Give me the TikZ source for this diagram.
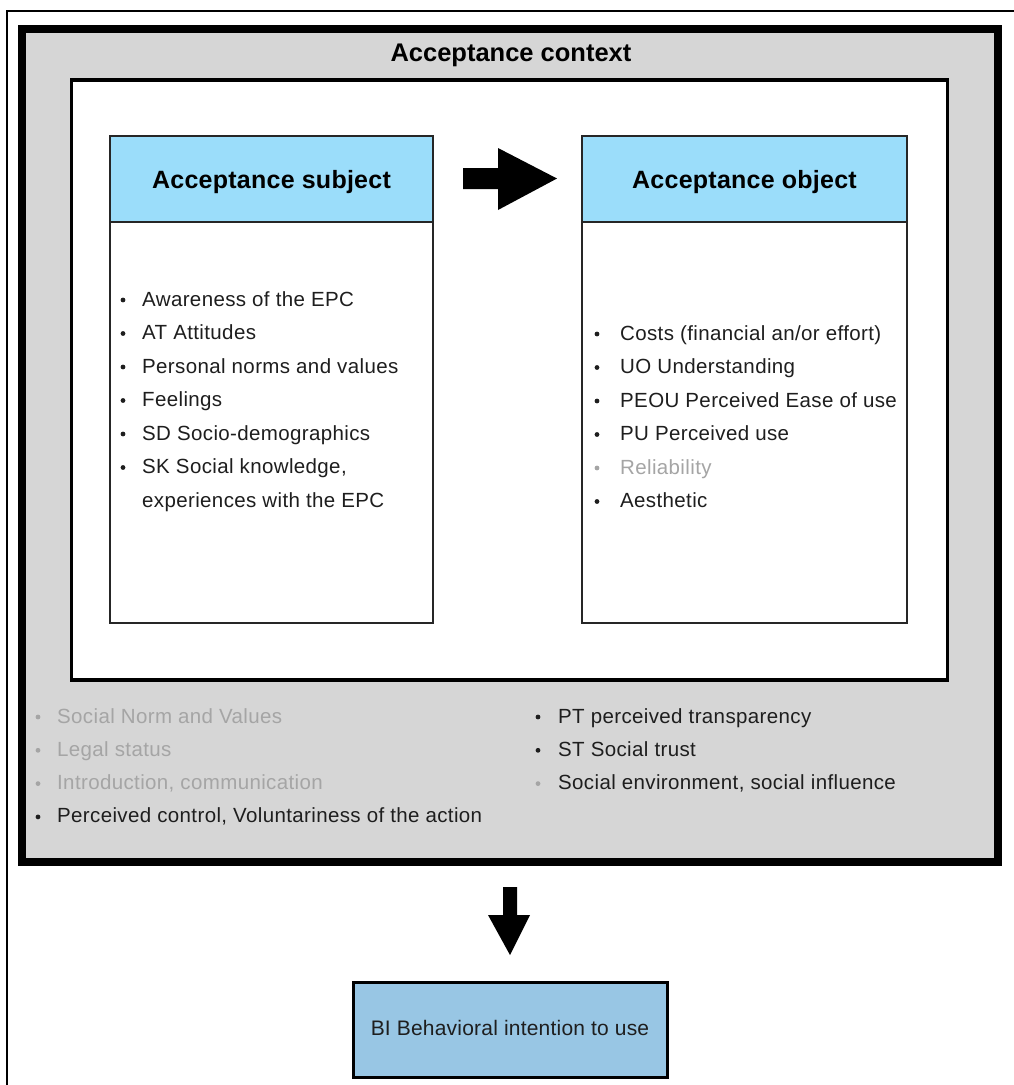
\documentclass[tikz,border=0pt]{standalone}
\usepackage{fontspec}
\setmainfont{Liberation Sans}
\newfontfamily\itemfont[LetterSpace=1.8]{Liberation Sans}
\newfontfamily\hdrfont[LetterSpace=1.0]{Liberation Sans}
\definecolor{ctxgray}{RGB}{214,214,214}
\definecolor{hdrblue}{RGB}{155,221,250}
\definecolor{biblue}{RGB}{152,198,228}
\definecolor{txtdark}{RGB}{30,30,30}
\definecolor{txtgray}{RGB}{165,165,165}
\begin{document}
\begin{tikzpicture}[x=1pt,y=-1pt,
  box/.style={draw=black!85, line width=2pt, inner sep=0pt, outer sep=0pt},
  itm/.style={anchor=base west, inner sep=0pt, font=\itemfont\fontsize{20.5}{24}\selectfont, text=txtdark},
  gitm/.style={itm, text=txtgray},
  hdr/.style={anchor=base, inner sep=0pt, font=\hdrfont\bfseries\fontsize{25}{30}\selectfont, text=black},
  dot/.style={circle, fill=txtdark, inner sep=0pt, minimum size=4.8pt},
  gdot/.style={dot, fill=txtgray},
  blockarrow/.style={fill=black, draw=none}]
\useasboundingbox (0,0) rectangle (1014,1085);
% outer page frame (partly cut off)
\draw[line width=2pt] (7,1090) -- (7,11) -- (1020,11);
% acceptance context box
\node (ctx) [box, draw=black, line width=8pt, fill=ctxgray, minimum width=976pt, minimum height=833pt] at (510,445.5) {};
\node (ctxtitle) [hdr, font=\bfseries\fontsize{25.5}{30}\selectfont] at (511,61) {Acceptance context};
% inner white box
\node (inner) [box, draw=black, line width=3.5pt, fill=white, minimum width=876pt, minimum height=600pt] at (509.5,380) {};
% subject
\node (subjbody) [box, fill=white, minimum width=323pt, minimum height=401pt] at (271.5,422.5) {};
\node (subjhdr) [box, fill=hdrblue, minimum width=323pt, minimum height=86pt] at (271.5,179) {};
\node (subjtitle) [hdr] at (271.5,188) {Acceptance subject};
% object
\node (objbody) [box, fill=white, minimum width=325pt, minimum height=401pt] at (744.5,422.5) {};
\node (objhdr) [box, fill=hdrblue, minimum width=325pt, minimum height=86pt] at (744.5,179) {};
\node (objtitle) [hdr] at (744.5,188) {Acceptance object};
% block arrow subject -> object
\fill[blockarrow] (463,168) -- (498,168) -- (498,148) -- (557,178.5) -- (498,210) -- (498,189) -- (463,189) -- cycle;
% subject items
\foreach \t [count=\i from 0] in {Awareness of the EPC, AT Attitudes, Personal norms and values, Feelings, SD Socio-demographics, {SK Social knowledge,}} {
  \node (s\i) [itm] at (142,306+33.5*\i) {\t};
  \node (sd\i) [dot] at (123,300+33.5*\i) {};
}
\node (s6) [itm] at (142,507) {experiences with the EPC};
% object items
\foreach \t/\c [count=\i from 0] in {{Costs (financial an/or effort)}/txtdark, UO Understanding/txtdark, PEOU Perceived Ease of use/txtdark, PU Perceived use/txtdark, Reliability/txtgray, Aesthetic/txtdark} {
  \node (o\i) [itm, text=\c] at (620,340+33.5*\i) {\t};
  \node (od\i) [dot, fill=\c] at (597,334+33.5*\i) {};
}
% context items left
\foreach \t/\c [count=\i from 0] in {Social Norm and Values/txtgray, Legal status/txtgray, {Introduction, communication}/txtgray, {Perceived control, Voluntariness of the action}/txtdark} {
  \node (cl\i) [itm, text=\c] at (57,723+33.3*\i) {\t};
  \node (cld\i) [dot, fill=\c] at (38,717+33.3*\i) {};
}
% context items right
\node (cr0) [itm] at (558,723) {PT perceived transparency};
\node (crd0) [dot] at (538,717) {};
\node (cr1) [itm] at (558,756.3) {ST Social trust};
\node (crd1) [dot] at (538,750.3) {};
\node (cr2) [itm] at (558,789.6) {Social environment, social influence};
\node (crd2) [gdot] at (538,783.6) {};
% BI box
\node (bi) [box, draw=black, line width=3pt, fill=biblue, minimum width=314pt, minimum height=95pt] at (510,1029.5) {};
\node (bitext) [anchor=base, inner sep=0pt, font=\hdrfont\fontsize{21}{25}\selectfont, text=txtdark] at (510,1035) {BI Behavioral intention to use};
% block arrow context -> BI
\fill[blockarrow] (503,887) -- (517,887) -- (517,915) -- (530,915) -- (510,955) -- (488,915) -- (503,915) -- cycle;
\end{tikzpicture}
\end{document}
